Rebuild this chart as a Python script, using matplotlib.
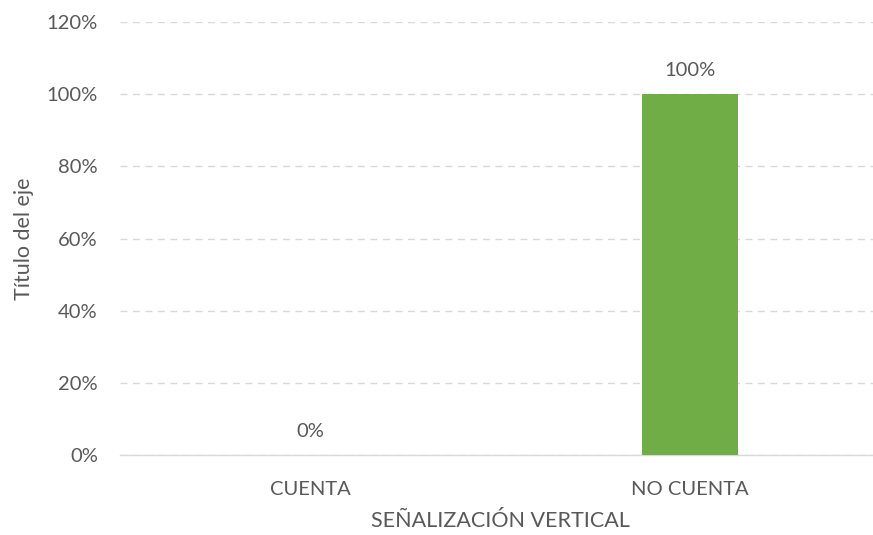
import matplotlib
matplotlib.use('Agg')
import matplotlib.pyplot as plt
from matplotlib.ticker import FuncFormatter

categorias = ['CUENTA', 'NO CUENTA']
valores = [0, 100]
ticks_y = [0, 20, 40, 60, 80, 100, 120]

plt.rcParams['font.family'] = ['Lato', 'DejaVu Sans']
texto = '#595959'

fig = plt.figure(figsize=(8.73, 5.35), dpi=100)
ax = fig.add_axes([120 / 873, 80 / 535, 760 / 873, 433 / 535])

pos = range(len(categorias))
barras = ax.bar(pos, valores, width=0.253, color='#70AD47', zorder=3)
for b, v in zip(barras, valores):
    ax.annotate(f'{v}%', (b.get_x() + b.get_width() / 2, v), xytext=(0, 11),
                textcoords='offset points', ha='center', va='bottom',
                fontsize=14.5, color=texto)

ax.set_xlim(-0.5, 1.5)
ax.set_ylim(0, 120)
ax.set_yticks(ticks_y)
ax.yaxis.set_major_formatter(FuncFormatter(lambda y, _: f'{y:.0f}%'))
ax.set_xticks(list(pos))
ax.set_xticklabels(categorias)
ax.grid(axis='y', color='#D9D9D9', linestyle=(0, (5, 4)), linewidth=1, zorder=0)
ax.tick_params(length=0, labelsize=14.5, labelcolor=texto, pad=16)
ax.tick_params(axis='x', pad=19)

for lado in ['top', 'right', 'left']:
    ax.spines[lado].set_visible(False)
ax.spines['bottom'].set_color('#D9D9D9')
ax.spines['bottom'].set_linewidth(1)

ax.set_xlabel('SEÑALIZACIÓN VERTICAL', fontsize=15.5, color=texto, labelpad=9)
ax.set_ylabel('Título del eje', fontsize=15.5, color=texto, labelpad=9)

fig.savefig('out.png', dpi=100)
